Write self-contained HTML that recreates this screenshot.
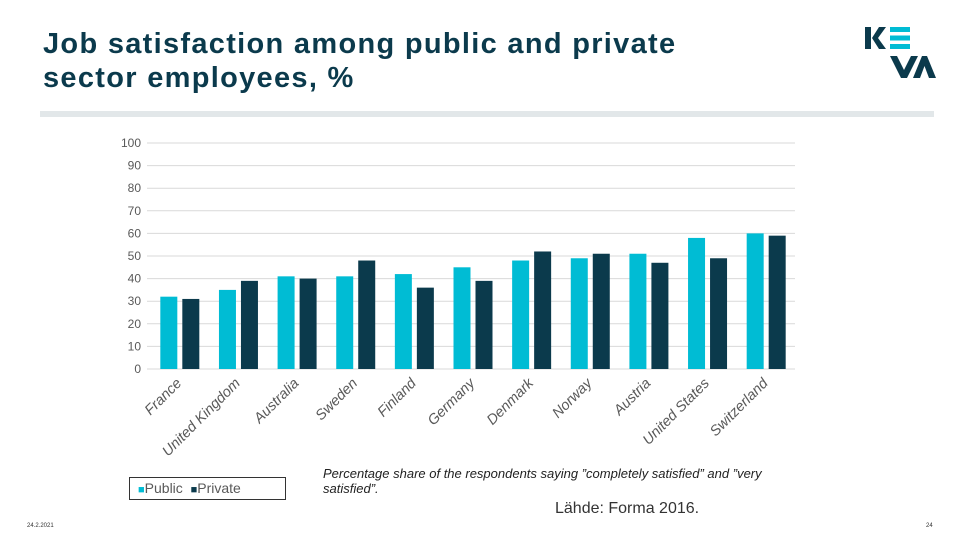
<!DOCTYPE html>
<html><head><meta charset="utf-8"><style>
body{margin:0;width:960px;height:540px;background:#fff;font-family:"Liberation Sans",sans-serif;position:relative;overflow:hidden}
.t{position:absolute}
</style></head><body>
<div class="t" style="left:43px;top:27px;font-size:29px;font-weight:bold;color:#0b3a4c;line-height:34px;letter-spacing:1.3px">Job satisfaction among public and private<br>sector employees, %</div>
<svg class="t" style="left:0;top:0" width="960" height="120">
<g fill="#0b3a4c"><rect x="865" y="27" width="6" height="22"/><polygon points="872,38 879,27 886,27 878,38 886,49 879,49"/>
<polygon points="890,56 897,56 904,70 911,56 918,56 907,78 901,78"/><polygon points="913,78 922,56 927,56 936,78 929,78 924.5,66 920,78"/></g>
<g fill="#00bcd4"><rect x="890" y="27" width="20" height="5"/><rect x="890" y="35.5" width="20" height="5"/><rect x="890" y="44" width="20" height="5"/></g>
<rect x="40" y="111" width="894" height="6" fill="#e2e7e9"/>
</svg>
<svg id="chart" class="t" style="left:0;top:120px" width="960" height="340"></svg>
<div class="t" style="left:129px;top:477px;width:155px;height:21px;border:1px solid #333;font-size:14px;color:#595959;line-height:21px"><span style="color:#00bcd4;margin-left:8px;font-size:11px">■</span>Public &nbsp;<span style="color:#0b3a4c;font-size:11px">■</span>Private</div>
<div class="t" style="left:323px;top:466px;font-size:13px;font-style:italic;color:#222;width:475px;line-height:15px">Percentage share of the respondents saying ”completely satisfied” and ”very satisfied”.</div>
<div class="t" style="left:555px;top:500px;font-size:16px;color:#333">Lähde: Forma 2016.</div>
<div class="t" style="left:27px;top:523px;font-size:6px;color:#333">24.2.2021</div>
<div class="t" style="left:926px;top:523px;font-size:6px;color:#333">24</div>
<script>
const categories=["France","United Kingdom","Australia","Sweden","Finland","Germany","Denmark","Norway","Austria","United States","Switzerland"];
const publicVals=[32,35,41,41,42,45,48,49,51,58,60];
const privateVals=[31,39,40,48,36,39,52,51,47,49,59];
const yTicks=[0,10,20,30,40,50,60,70,80,90,100];
const svg=document.getElementById('chart');const NS='http://www.w3.org/2000/svg';
const x0=150,x1=795,yTop=23,yBot=249;
const y=v=>yBot-(v/100)*(yBot-yTop);
const band=(x1-x0)/categories.length;
function mk(t,a){const e=document.createElementNS(NS,t);for(const k in a)e.setAttribute(k,a[k]);svg.appendChild(e);return e;}
yTicks.forEach(v=>{const l=mk('line',{x1:x0-3,x2:x1,y1:y(v),y2:y(v),stroke:'#d9d9d9','stroke-width':1});


const t=mk('text',{x:141,y:y(v)+4,'text-anchor':'end','font-size':12,fill:'#595959'});t.textContent=v;

});
categories.forEach((c,i)=>{const cx=x0+band*(i+0.5);
const b1=mk('rect',{x:cx-19,y:y(publicVals[i]),width:17,height:yBot-y(publicVals[i]),fill:'#00bcd4'});


const b2=mk('rect',{x:cx+3,y:y(privateVals[i]),width:17,height:yBot-y(privateVals[i]),fill:'#0b3a4c'});


const tx=cx+3,ty=yBot+15;
const t=mk('text',{x:tx,y:ty,'text-anchor':'end','font-size':14.5,'font-style':'italic',fill:'#595959',transform:`rotate(-45 ${tx} ${ty})`});t.textContent=c;

});
</script>
</body></html>
